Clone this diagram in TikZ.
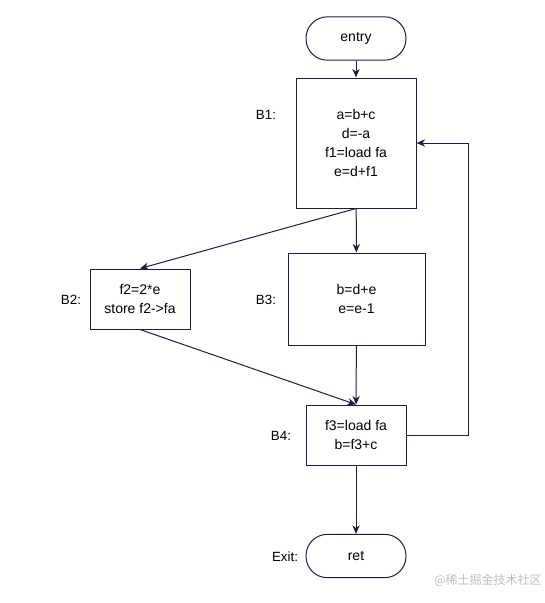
\documentclass[tikz,border=0pt]{standalone}
\usepackage{fontspec}
\setmainfont{Liberation Sans}
\newfontfamily\cjk{Noto Sans CJK SC}
\definecolor{CFGline}{RGB}{30, 30, 60}
\definecolor{CFGmark}{RGB}{190, 190, 190}
\usetikzlibrary{arrows.meta, positioning}

\begin{document}
\begin{tikzpicture}[
        x=0.75pt, y=-0.75pt,
        blk/.style={rectangle, draw=CFGline, line width=0.75pt, fill=white,
                    align=center, font=\fontsize{10.5}{14.25}\selectfont},
        term/.style={rectangle, rounded corners=16pt, draw=CFGline, line width=0.75pt,
                     minimum width=75pt, minimum height=32.5pt,
                     font=\fontsize{10.5}{12}\selectfont},
        lbl/.style={font=\fontsize{10}{12}\selectfont},
        arr/.style={-{Stealth[length=6.5pt, width=5.5pt]}, CFGline, line width=0.75pt}
      ]
      \useasboundingbox (0,0) rectangle (545,603);
      % entry and exit
      \node[term] (entry) at (356,38.5) {entry};
      \node[term] (ret) at (356,556) {ret};
      % basic blocks
      \node[blk, minimum width=90pt, minimum height=97.5pt] (b1) at (356,143)
            {a=b+c\\ d=-a\\ f1=load fa\\ e=d+f1};
      \node[blk, minimum width=75pt, minimum height=45pt] (b2) at (140,299)
            {f2=2*e\\ store f2->fa};
      \node[blk, minimum width=102.75pt, minimum height=69pt] (b3) at (356.5,299)
            {b=d+e\\ e=e-1};
      \node[blk, minimum width=75pt, minimum height=45pt] (b4) at (356,435)
            {f3=load fa\\ b=f3+c};
      % block labels
      \node[lbl] (lb1) at (266,115) {B1:};
      \node[lbl] (lb2) at (71,300) {B2:};
      \node[lbl] (lb3) at (266,300) {B3:};
      \node[lbl] (lb4) at (281,436) {B4:};
      \node[lbl] (lexit) at (285,557) {Exit:};
      \node[font=\cjk\fontsize{9}{11}\selectfont, text=CFGmark] (mark) at (488,580)
            {@稀土掘金技术社区};
      % edges
      \draw[arr] (entry) -- (b1);
      \draw[arr] (b1.south) -- (b2.north);
      \draw[arr] (b1) -- (b3);
      \draw[arr] (b2.south) -- (b4.north);
      \draw[arr] (b3) -- (b4);
      \draw[arr] (b4) -- (ret);
      \draw[arr] (b4.east) -- ++(62,0) |- (b1.east);
    \end{tikzpicture}
\end{document}
